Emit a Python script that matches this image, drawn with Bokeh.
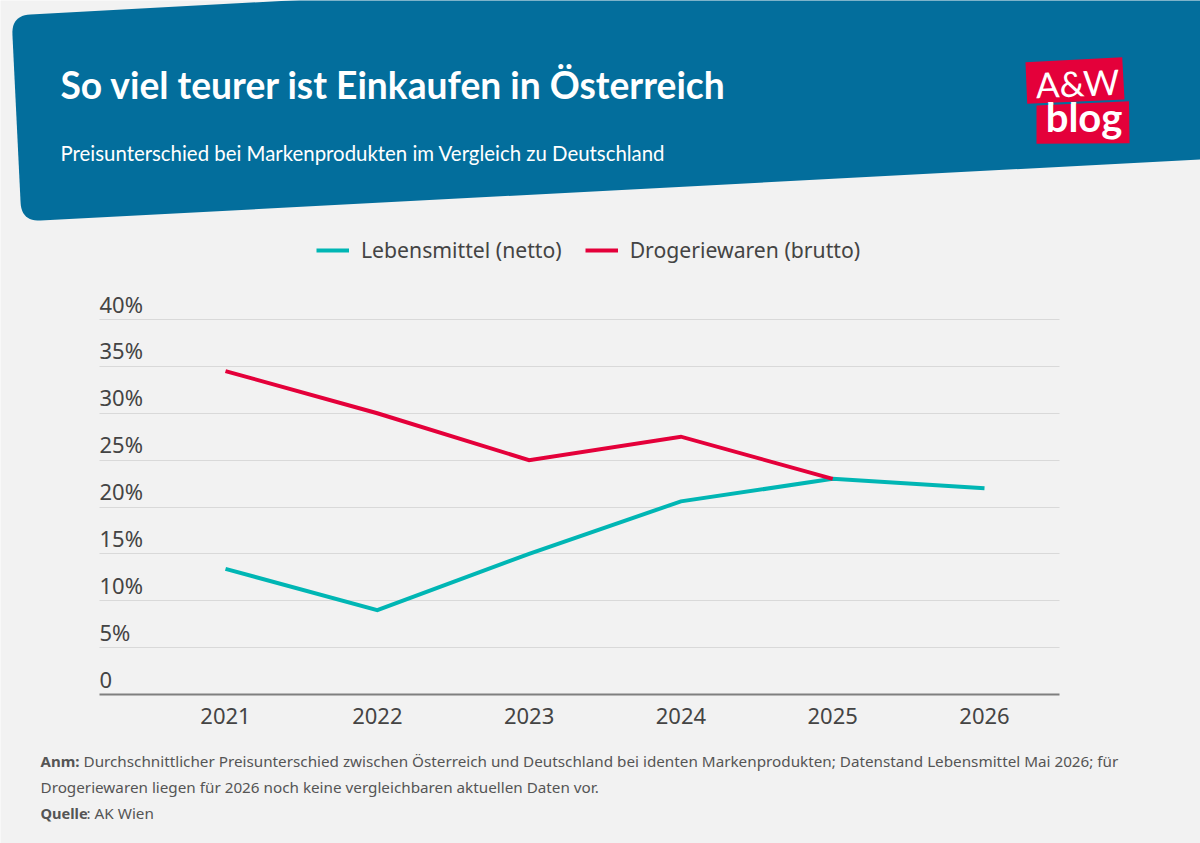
import math
from bokeh.plotting import figure
from bokeh.models import (ColumnDataSource, Range1d, LinearAxis, FixedTicker, Grid, Legend, LegendItem, Label)
from bokeh.embed import file_html
from bokeh.resources import INLINE

# ---------- data ----------
years = [2021, 2022, 2023, 2024, 2025, 2026]
lebensmittel = [13.4, 9.0, 15.0, 20.6, 23.0, 22.0]
drogerie_years = [2021, 2022, 2023, 2024, 2025]
drogerie = [34.5, 30.0, 25.0, 27.5, 23.0]
y_ticks = [0, 5, 10, 15, 20, 25, 30, 35, 40]
y_tick_labels = ["0", "5%", "10%", "15%", "20%", "25%", "30%", "35%", "40%"]
x_tick_labels = ["2021", "2022", "2023", "2024", "2025", "2026"]
series_names = ["Lebensmittel (netto)", "Drogeriewaren (brutto)"]

title_text = "So viel teurer ist Einkaufen in Österreich"
subtitle_text = "Preisunterschied bei Markenprodukten im Vergleich zu Deutschland"
note_bold = "Anm:"
note_1 = "Durchschnittlicher Preisunterschied zwischen Österreich und Deutschland bei identen Markenprodukten; Datenstand Lebensmittel Mai 2026; für"
note_2 = "Drogeriewaren liegen für 2026 noch keine vergleichbaren aktuellen Daten vor."
source_bold = "Quelle"
source_text = ": AK Wien"

# ---------- colours / fonts ----------
BG = "#f2f2f2"; BLUE = "#036e9c"; RED = "#e4003a"; TEAL = "#00b6b4"
TXT = "#444444"; NOTE = "#555555"
FONT = "Noto Sans"; HEAD = "Lato"

# ---------- pixel geometry ----------
W, H, M = 1200, 843, 0
PX_2021, PX_YEAR = 225.0, 151.8
PX_Y0, PX_PER_UNIT = 694.0, 9.375
PX_LEFT, PX_RIGHT = 99.0, 1059.0
LABEL_LIFT = 16.0

def x_val(px): return 2021 + (px - PX_2021) / PX_YEAR
def y_val(px): return (PX_Y0 - px) / PX_PER_UNIT

p = figure(width=W, height=H, output_backend="svg", toolbar_location=None,
           x_range=Range1d(x_val(M), x_val(M + W)), y_range=Range1d(y_val(M + H), y_val(M)),
           x_axis_type=None, y_axis_type=None, min_border=0, outline_line_color=None,
           background_fill_color=BG, border_fill_color=BG)
p.grid.visible = False
p.extra_x_ranges["px"] = Range1d(M, M + W)
p.extra_y_ranges["px"] = Range1d(M + H, M)
p.extra_y_ranges["lab"] = Range1d(y_val(M + H + LABEL_LIFT), y_val(M + LABEL_LIFT))

def rounded(pts, r):
    out = []
    n = len(pts)
    for i in range(n):
        x0, y0 = pts[i - 1]; x1, y1 = pts[i]; x2, y2 = pts[(i + 1) % n]
        if r[i] == 0:
            out.append((x1, y1)); continue
        d0 = math.hypot(x0 - x1, y0 - y1); d2 = math.hypot(x2 - x1, y2 - y1)
        a = (x1 + (x0 - x1) * r[i] / d0, y1 + (y0 - y1) * r[i] / d0)
        b = (x1 + (x2 - x1) * r[i] / d2, y1 + (y2 - y1) * r[i] / d2)
        for k in range(13):
            t = k / 12
            out.append(((1-t)**2*a[0] + 2*t*(1-t)*x1 + t*t*b[0], (1-t)**2*a[1] + 2*t*(1-t)*y1 + t*t*b[1]))
    return zip(*out)

hx, hy = rounded([(11, 15), (1200, -49), (1200, 159), (21, 221)], [19, 0, 0, 19])
p.patch(list(hx), list(hy), fill_color=BLUE, line_color=None, x_range_name="px", y_range_name="px")
p.patch([1036, 1128.5, 1129, 1036], [105, 100.7, 142.7, 143.3], fill_color=RED, line_color=None, x_range_name="px", y_range_name="px")
p.patch([1025, 1121.7, 1124, 1026.7], [61.7, 56.7, 99, 103.3], fill_color=RED, line_color=None, x_range_name="px", y_range_name="px")

def label(text, x, y, size, color, font=FONT, style="normal", angle=0.0, align="left"):
    p.add_layout(Label(x=x, y=y, text=text, x_range_name="px", y_range_name="px",
                       text_font=font, text_font_size=f"{size}px", text_font_style=style,
                       text_color=color, angle=angle, angle_units="deg", text_align=align,
                       text_baseline="alphabetic"))

label(title_text, 60, 84, 37.2, "#ffffff", HEAD, "bold")
label(subtitle_text, 60, 152, 20.4, "#ffffff", HEAD)
label("A&W", 1077, 82, 35, "#ffffff", "Lato", "normal", 2.5, "center")
label("blog", 1083.5, 116, 40, "#ffffff", "Lato", "bold", 0, "center")

label(note_bold, 40, 760, 15, NOTE, FONT, "bold")
label(note_1, 83, 760, 15.25, NOTE)
label(note_2, 40, 786, 15.25, NOTE)
label(source_bold, 40, 812, 14.6, NOTE, FONT, "bold")
label(source_text, 86, 812, 15.25, NOTE)

# ---------- grid ----------
grid = Grid(dimension=1, ticker=FixedTicker(ticks=y_ticks[1:]), grid_line_color="#d9d9d9",
            grid_line_width=1, cross_bounds=(x_val(PX_LEFT), x_val(PX_RIGHT)))
p.add_layout(grid)

# ---------- axes ----------
xa = LinearAxis(ticker=FixedTicker(ticks=years), fixed_location=0,
                major_label_overrides={y: s for y, s in zip(years, x_tick_labels)},
                major_tick_line_color=None, minor_tick_line_color=None,
                axis_line_color="#7f7f7f", axis_line_width=2,
                bounds=(x_val(PX_LEFT), x_val(PX_RIGHT)),
                major_label_text_font=FONT, major_label_text_font_size="22px",
                major_label_text_color=TXT, major_label_standoff=7)
p.add_layout(xa, "below")

ya = LinearAxis(ticker=FixedTicker(ticks=y_ticks), fixed_location=x_val(PX_LEFT - 6),
                y_range_name="lab",
                major_label_overrides={v: s for v, s in zip(y_ticks, y_tick_labels)},
                major_tick_line_color=None, minor_tick_line_color=None, axis_line_color=None,
                major_label_orientation="horizontal",
                major_label_text_font=FONT, major_label_text_font_size="22px",
                major_label_text_color=TXT, major_label_standoff=0)
p.add_layout(ya, "right")

# ---------- series ----------
s1 = ColumnDataSource(dict(x=years, y=lebensmittel))
s2 = ColumnDataSource(dict(x=drogerie_years, y=drogerie))
r1 = p.line("x", "y", source=s1, line_color=TEAL, line_width=4, line_join="miter")
r2 = p.line("x", "y", source=s2, line_color=RED, line_width=4, line_join="miter")

legend = Legend(items=[LegendItem(label=series_names[0], renderers=[r1]),
                       LegendItem(label=series_names[1], renderers=[r2])],
                orientation="horizontal", location=(316, 579),
                background_fill_alpha=0, border_line_color=None,
                glyph_width=33, glyph_height=20, label_standoff=12, spacing=23,
                padding=0, margin=0,
                label_text_font=FONT, label_text_font_size="21.2px", label_text_color=TXT)
p.add_layout(legend, "center")

open("out.html", "w").write(file_html(p, INLINE))
